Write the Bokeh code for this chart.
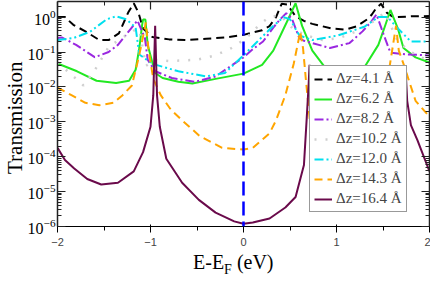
from bokeh.plotting import figure
from bokeh.layouts import row, column
from bokeh.models import (Range1d, FixedTicker, LinearAxis, LogAxis, Span, Div,
                          CustomJSTickFormatter)
from bokeh.embed import file_html
from bokeh.resources import INLINE

# ---------------- data ----------------
E_41 = [-2.0, -1.92, -1.83, -1.7, -1.55, -1.45, -1.34, -1.24, -1.18, -1.13, -1.08, -0.98, -0.8, -0.6,
        -0.4, -0.2, 0.0, 0.2, 0.28, 0.35, 0.41, 0.47, 0.52, 0.56, 0.65, 0.74, 0.95, 1.1, 1.22, 1.34,
        1.38, 1.43, 1.48, 1.54, 1.6, 1.66, 1.8, 2.0]
T_41 = [1.0, 1.0, 0.6, 0.39, 0.22, 0.22, 0.34, 1.35, 2.5, 1.35, 0.47, 0.27, 0.23, 0.22,
        0.24, 0.26, 0.31, 0.42, 0.55, 1.0, 2.4, 2.3, 1.5, 1.05, 0.78, 0.64, 0.47, 0.44, 0.55, 0.9,
        1.19, 1.85, 2.4, 1.35, 1.05, 1.0, 1.05, 1.07]

E_62 = [-2.0, -1.79, -1.58, -1.37, -1.23, -1.16, -1.12, -1.09, -1.08, -1.055, -1.03, -0.95, -0.87,
        -0.7, -0.55, -0.3, 0.0, 0.2, 0.32, 0.42, 0.48, 0.56, 0.63, 0.74, 0.87, 1.08, 1.29, 1.45,
        1.51, 1.58, 1.66, 1.72, 1.85, 2.0]
T_62 = [0.047, 0.028, 0.015, 0.013, 0.015, 0.031, 0.13, 0.6, 0.85, 0.85, 0.16, 0.025, 0.018,
        0.014, 0.0125, 0.017, 0.024, 0.043, 0.11, 0.4, 0.87, 2.5, 0.56, 0.11, 0.038, 0.021, 0.033, 0.16,
        0.45, 1.6, 0.47, 0.13, 0.07, 0.05]

E_82 = [-2.0, -1.95, -1.8, -1.6, -1.45, -1.35, -1.21, -1.14, -1.06, -1.03, -0.95, -0.77, -0.52,
        -0.3, 0.0, 0.1, 0.21, 0.32, 0.4, 0.46, 0.52, 0.6, 0.65, 0.93, 1.14, 1.28, 1.38, 1.43, 1.51,
        1.58, 1.76, 2.0]
T_82 = [0.25, 0.26, 0.16, 0.071, 0.1, 0.16, 0.47, 0.8, 0.25, 0.06, 0.028, 0.018, 0.014,
        0.02, 0.07, 0.12, 0.2, 0.5, 0.9, 1.3, 0.9, 0.25, 0.21, 0.13, 0.18, 0.39, 0.78, 1.2, 0.3,
        0.095, 0.085, 0.08]

E_102 = [-2.0, -1.87, -1.72, -1.6, -1.45, -1.3, -1.18, -1.12, -1.05, -0.95, -0.8, -0.5, -0.3,
         -0.13, 0.03, 0.18, 0.29, 0.4, 0.53, 0.67, 0.85, 1.03, 1.2, 1.38, 1.52, 1.66, 1.8, 1.94, 2.0]
T_102 = [0.05, 0.025, 0.011, 0.03, 0.14, 0.26, 0.41, 0.45, 0.04, 0.06, 0.055, 0.06, 0.08,
         0.13, 0.25, 0.64, 1.05, 1.1, 0.47, 0.3, 0.22, 0.25, 0.38, 0.7, 1.35, 0.2, 0.1, 0.065, 0.06]

E_120 = [-2.0, -1.83, -1.65, -1.47, -1.37, -1.26, -1.16, -1.12, -0.98, -0.7, -0.4, -0.2, 0.0,
         0.15, 0.29, 0.43, 0.5, 0.6, 0.74, 1.02, 1.3, 1.45, 1.55, 1.66, 1.8, 2.0]
T_120 = [0.22, 0.25, 0.38, 0.87, 1.05, 0.87, 0.5, 0.085, 0.046, 0.028, 0.02, 0.025, 0.08,
         0.2, 0.47, 1.0, 0.87, 0.3, 0.22, 0.3, 0.53, 1.0, 1.0, 0.47, 0.2, 0.2]

E_143 = [-2.0, -1.85, -1.7, -1.55, -1.4, -1.3, -1.2, -1.14, -1.1, -1.05, -1.02, -0.97, -0.89,
         -0.78, -0.66, -0.47, -0.23, 0.0, 0.1, 0.28, 0.35, 0.45, 0.54, 0.61, 0.64, 0.67, 0.72, 0.85,
         1.1, 1.35, 1.45, 1.5, 1.56, 1.64, 1.67, 1.72, 1.85, 2.0]
T_143 = [0.0095, 0.0058, 0.0035, 0.003, 0.0035, 0.0058, 0.011, 0.05, 0.15, 0.7, 0.11, 0.017, 0.0058,
         0.0022, 0.0011, 3.9e-4, 1.8e-4, 1.6e-4, 1.8e-4, 4.7e-4, 1.1e-3, 5.8e-3, 0.046, 0.38, 0.13,
         0.017, 7e-4, 1e-4, 3e-5, 3e-4, 1e-3, 5e-3, 0.025, 0.56, 0.11, 0.046, 0.004, 0.0014]

E_164 = [-2.0, -1.92, -1.82, -1.68, -1.53, -1.35, -1.18, -1.08, -1.0, -0.97, -0.95, -0.93, -0.9,
         -0.83, -0.66, -0.48, -0.3, -0.1, 0.0, 0.1, 0.28, 0.45, 0.56, 0.65, 0.68, 0.7, 0.71, 0.73,
         0.76, 0.85, 1.2, 1.6, 1.7, 1.73, 1.745, 1.76, 1.8, 1.87, 2.0]
T_164 = [1.8e-4, 8e-5, 4.6e-5, 2.3e-5, 1.6e-5, 1.8e-5, 3.8e-5, 1.35e-4, 7.2e-4, 5.8e-3, 0.56, 5.8e-3,
         7.2e-4, 8.7e-5, 1.8e-5, 5.8e-6, 2.5e-6, 1.4e-6, 1.2e-6, 1.3e-6, 1.7e-6, 3.5e-6, 7e-6, 5.8e-5,
         1.3e-3, 0.011, 0.043, 5e-3, 3e-4, 3e-5, 5e-6, 3e-5, 5e-4, 4e-3, 0.025, 4e-3, 8e-4, 3e-4, 3.8e-5]

labels = ["Δz=4.1 Å", "Δz=6.2 Å", "Δz=8.2 Å", "Δz=10.2 Å", "Δz=12.0 Å", "Δz=14.3 Å", "Δz=16.4 Å"]
x_ticks = [-2, -1, 0, 1, 2]
x_minor = [-1.5, -0.5, 0.5, 1.5]
y_ticks = [10.0 ** k for k in range(-6, 1)]
y_minor = [m * 10.0 ** k for k in range(-6, 1) for m in range(2, 10)]

series = [
    (E_41, T_41, "#000000", "8 5", 2.0),
    (E_62, T_62, "#22e822", "solid", 2.0),
    (E_82, T_82, "#9a28e0", "9 3 2 3", 2.0),
    (E_102, T_102, "#cfcfcf", "2 9", 2.5),
    (E_120, T_120, "#00e0ee", "9 3 2 3 2 3", 2.0),
    (E_143, T_143, "#ffa500", "8 5", 2.0),
    (E_164, T_164, "#6a0a4b", "solid", 2.0),
]

SERIF = "Liberation Serif"
AX = "#222222"

YL_W = 14
P_W, P_H = 420 - YL_W, 248
XL_H = 266 - P_H

p = figure(width=P_W, height=P_H, output_backend="svg", toolbar_location=None,
           y_axis_type="log", x_range=Range1d(-2, 2), y_range=Range1d(1e-6, 2.8),
           min_border_left=30, min_border_right=1, min_border_top=1, min_border_bottom=20)
p.outline_line_color = None
p.xgrid.visible = False
p.ygrid.visible = False

for (ex, ty, col, dash, lw), lab in zip(series, labels):
    p.line(ex, ty, line_color=col, line_width=lw, line_dash=dash, legend_label=lab)

p.add_layout(Span(location=0, dimension="height", line_color="#0000ff",
                  line_width=2.5, line_dash="14 6"))

xt = FixedTicker(ticks=x_ticks, minor_ticks=x_minor)
yt = FixedTicker(ticks=y_ticks, minor_ticks=y_minor)
p.xaxis.ticker = xt
p.yaxis.ticker = yt

blank = CustomJSTickFormatter(code="return '';")
top_axis = LinearAxis(ticker=xt, formatter=blank)
right_axis = LogAxis(ticker=yt, formatter=blank)
p.add_layout(top_axis, "above")
p.add_layout(right_axis, "right")

for ax in [p.xaxis[0], p.yaxis[0], top_axis, right_axis]:
    ax.axis_line_color = AX
    ax.axis_line_width = 1.5
    ax.major_tick_line_color = AX
    ax.minor_tick_line_color = AX
    ax.major_tick_line_width = 1.2
    ax.minor_tick_line_width = 1
    ax.major_tick_in = 8
    ax.major_tick_out = 0
    ax.minor_tick_in = 4
    ax.minor_tick_out = 0
    ax.major_label_text_font = SERIF
    ax.major_label_text_font_size = "16px"
    ax.major_label_text_color = "#000000"

for ax in [top_axis, right_axis]:
    ax.major_label_standoff = 0

p.xaxis[0].major_label_standoff = 4
p.yaxis[0].major_label_standoff = 2

lg = p.legend[0]
lg.location = (252, 14)
lg.border_line_color = "#333333"
lg.border_line_width = 1.2
lg.background_fill_color = "white"
lg.background_fill_alpha = 1.0
lg.label_text_font = SERIF
lg.label_text_font_size = "15px"
lg.glyph_width = 18
lg.glyph_height = 14
lg.label_height = 14
lg.label_standoff = 4
lg.spacing = 3
lg.padding = 4
lg.margin = 0

# axis titles as real HTML text
ylab = Div(width=YL_W, height=P_H,
           text=("<div style=\"writing-mode:vertical-rl;transform:rotate(180deg);"
                 "font-family:'Liberation Serif';font-size:21px;line-height:20px;"
                 "width:20px;height:226px;margin-top:0px;text-align:center;"
                 "white-space:nowrap;color:#000;overflow:visible;\">Transmission</div>"),
           styles={"overflow": "visible"})
xlab = Div(width=P_W, height=XL_H,
           text=("<div style=\"font-family:'Liberation Serif';font-size:20px;line-height:18px;"
                 "padding-left:164px;white-space:nowrap;color:#000;\">"
                 "E-E<span style=\"font-size:14px;position:relative;top:5px;\">F</span>"
                 " (eV)</div>"),
           styles={"overflow": "visible"})

layout = row(ylab, column(p, xlab, spacing=0), spacing=0)
open("out.html", "w").write(file_html(layout, INLINE))
